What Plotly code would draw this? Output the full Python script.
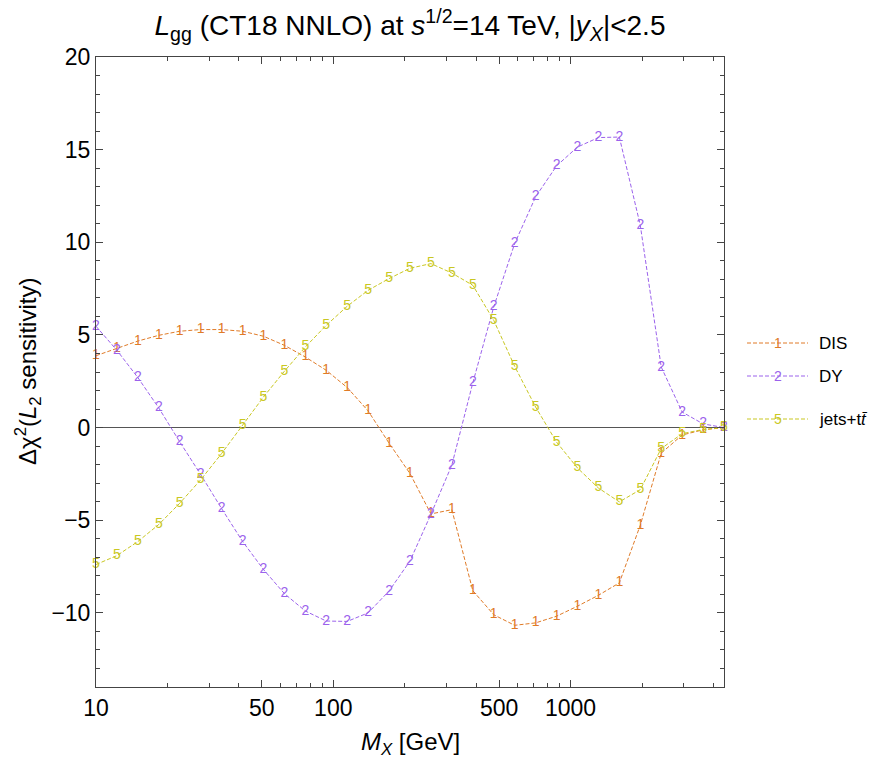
import plotly.graph_objects as go

# ---- data ----
mass_gev = [10, 12.25, 15.01, 18.39, 22.54, 27.61, 33.83, 41.45, 50.79, 62.23,
            76.25, 93.42, 114.5, 140.2, 171.8, 210.5, 257.9, 316.0, 387.2, 474.4,
            581.2, 712.2, 872.6, 1069, 1310, 1605, 1967, 2410, 2952, 3617, 4432]

dis_vals = [3.88, 4.26, 4.67, 4.98, 5.2, 5.29, 5.29, 5.2, 4.93, 4.44,
            3.81, 3.09, 2.16, 0.9, -0.84, -2.48, -4.66, -4.43, -8.8, -10.1,
            -10.67, -10.54, -10.18, -9.64, -9.05, -8.38, -5.27, -1.38, -0.4, -0.12, 0.0]

dy_vals = [5.47, 4.17, 2.7, 1.06, -0.77, -2.53, -4.37, -6.14, -7.66, -8.96,
           -9.9, -10.44, -10.46, -10.0, -8.82, -7.2, -4.68, -2.02, 2.41, 6.51,
           9.93, 12.45, 14.12, 15.14, 15.65, 15.68, 10.92, 3.27, 0.84, 0.2, 0.0]

jets_vals = [-7.39, -6.91, -6.15, -5.23, -4.08, -2.82, -1.4, 0.12, 1.65, 3.04,
             4.35, 5.52, 6.55, 7.41, 8.04, 8.6, 8.85, 8.34, 7.68, 5.79,
             3.31, 1.11, -0.78, -2.18, -3.26, -4.01, -3.35, -1.13, -0.33, -0.1, 0.0]

series_names = ["DIS", "DY", "jets+t<i>t̄</i>"]
series_marks = ["1", "2", "5"]
series_colors = ["#E07B28", "#9B62EC", "#C9C722"]

x_tick_vals = [10, 50, 100, 500, 1000]
x_tick_text = ["10", "50", "100", "500", "1000"]
x_minor_vals = [20, 30, 40, 60, 70, 80, 90, 200, 300, 400, 600, 700, 800, 900, 2000, 3000, 4000]
y_tick_vals = [-10, -5, 0, 5, 10, 15, 20]
y_tick_text = ["\u221210", "\u22125", "0", "5", "10", "15", "20"]

FONT = "Liberation Sans, Arial, Helvetica, sans-serif"

fig = go.Figure()
for vals, name, mk, col in zip([dis_vals, dy_vals, jets_vals], series_names, series_marks, series_colors):
    fig.add_trace(go.Scatter(
        x=mass_gev, y=vals, mode="lines+text", name=name,
        text=[mk] * len(vals), textposition="middle center",
        textfont=dict(family=FONT, size=14, color=col),
        line=dict(color=col, width=1, dash="4px,2px"),
        showlegend=False, cliponaxis=False, hoverinfo="skip",
    ))

# ---- manual legend (Mathematica style) ----
L, R, T, B = 96, 724, 57, 687
W, H = R - L, B - T
def px(xp):
    return (xp - L) / W
def py(yp):
    return (B - yp) / H

leg_rows = [343, 376, 419]
for (yrow, name, mk, col) in zip(leg_rows, series_names, series_marks, series_colors):
    fig.add_shape(type="line", xref="paper", yref="paper",
                  x0=px(747), x1=px(808), y0=py(yrow), y1=py(yrow),
                  line=dict(color=col, width=1, dash="4px,2px"))
    fig.add_annotation(xref="paper", yref="paper", x=px(778), y=py(yrow),
                       text=mk, showarrow=False, xanchor="center", yanchor="middle",
                       font=dict(family=FONT, size=14, color=col))
    fig.add_annotation(xref="paper", yref="paper", x=px(817), y=py(yrow),
                       text=name, showarrow=False, xanchor="left", yanchor="middle",
                       font=dict(family=FONT, size=17, color="black"))

# axis titles
fig.add_annotation(xref="paper", yref="paper", x=0.5, y=py(744),
                   text="<i>M</i><sub><i>X</i></sub> [GeV]", showarrow=False,
                   xanchor="center", yanchor="middle",
                   font=dict(family=FONT, size=24, color="black"))
fig.add_annotation(xref="paper", yref="paper", x=px(28), y=0.5,
                   text="Δχ<sup>2</sup>(<i>L</i><sub>2</sub> sensitivity)", showarrow=False,
                   textangle=-90, xanchor="center", yanchor="middle",
                   font=dict(family=FONT, size=24, color="black"))

fig.update_layout(
    width=875, height=761, autosize=False,
    margin=dict(l=L, r=875 - R, t=T, b=761 - B),
    paper_bgcolor="white", plot_bgcolor="white",
    font=dict(family=FONT, size=22, color="black"),
    title=dict(text="<i>L</i><sub>gg</sub> (CT18 NNLO) at <i>s</i><sup>1/2</sup>=14 TeV, |<i>y</i><sub><i>X</i></sub>|&lt;2.5",
               x=0.5, xref="paper", xanchor="center",
               y=1 - 25 / 761, yref="container", yanchor="middle",
               font=dict(family=FONT, size=28, color="black")),
    xaxis=dict(type="log", range=[1, 3.6466],
               showgrid=False, zeroline=False,
               showline=True, linecolor="#444", linewidth=1, mirror="allticks",
               ticks="inside", ticklen=7, tickcolor="#444",
               tickmode="array", tickvals=x_tick_vals, ticktext=x_tick_text,
               tickfont=dict(family=FONT, size=23, color="black"),
               minor=dict(tickmode="array", tickvals=x_minor_vals, ticks="inside",
                          ticklen=4, tickcolor="#444", showgrid=False)),
    yaxis=dict(range=[-14, 20],
               showgrid=False, zeroline=True, zerolinecolor="#555", zerolinewidth=1,
               showline=True, linecolor="#444", linewidth=1, mirror="allticks",
               ticks="inside", ticklen=7, tickcolor="#444",
               tickmode="array", tickvals=y_tick_vals, ticktext=y_tick_text,
               tickfont=dict(family=FONT, size=23, color="black"),
               minor=dict(tickmode="linear", tick0=0, dtick=1, ticks="inside",
                          ticklen=4, tickcolor="#444", showgrid=False)),
)

fig.write_html("out.html", config={"displayModeBar": False},
               post_script="document.body.style.margin='0px';")
